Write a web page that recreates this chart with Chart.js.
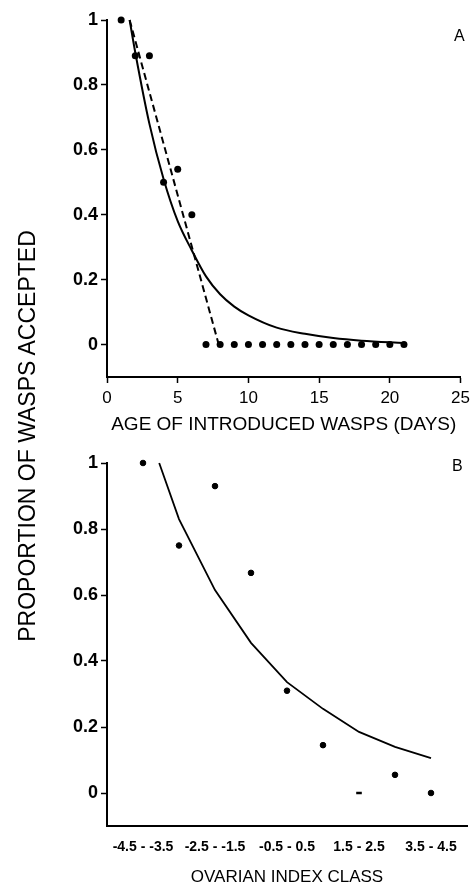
<!DOCTYPE html>
<html>
<head>
<meta charset="utf-8">
<script src="https://cdn.jsdelivr.net/npm/chart.js@4"></script>
<style>
  html, body { margin: 0; padding: 0; background: #fff; }
  #wrap { position: relative; width: 475px; height: 888px; font-family: "Liberation Sans", Arial, sans-serif; color: #000; }
  #boxA { position: absolute; left: 0; top: 0; width: 475px; height: 445px; }
  #boxB { position: absolute; left: 0; top: 445px; width: 475px; height: 443px; }
  .panel { position: absolute; font-size: 16px; line-height: 18px; }
  #ytitle { position: absolute; left: -223px; top: 421px; width: 500px; height: 30px; line-height: 30px;
            text-align: center; font-size: 23px; transform: rotate(-90deg); white-space: nowrap; }
</style>
</head>
<body>
<div id="wrap">
  <div id="boxA"><canvas id="chartA"></canvas></div>
  <div id="boxB"><canvas id="chartB"></canvas></div>
  <div id="ytitle">PROPORTION OF WASPS ACCEPTED</div>
  <div class="panel" style="left:454px; top:27px;">A</div>
  <div class="panel" style="left:452px; top:457px;">B</div>
</div>
<script>
/* ================= DATA ================= */

// panel A - age of introduced wasps
const ageDays = [1, 2, 3, 4, 5, 6, 7, 8, 9, 10, 11, 12, 13, 14, 15, 16, 17, 18, 19, 20, 21];
const acceptA = [1, 0.89, 0.89, 0.5, 0.54, 0.4, 0, 0, 0, 0, 0, 0, 0, 0, 0, 0, 0, 0, 0, 0, 0];
const curveDaysA = [1.6, 2, 3, 4, 5, 6, 7, 8, 9, 10, 12, 14, 16, 18, 21];
const curveA = [1, 0.9, 0.68, 0.51, 0.38, 0.29, 0.21, 0.155, 0.117, 0.09, 0.052, 0.033, 0.02, 0.012, 0.005];
const lineDaysA = [1.6, 7.9];
const lineA = [1, 0];
const xTicksA = [0, 5, 10, 15, 20, 25];

// panel B - ovarian index class
const classPos = [1, 2, 3, 4, 5, 6, 7, 8, 9];
const acceptB = [1, 0.75, 0.93, 0.667, 0.31, 0.145, 0, 0.055, 0];
const pointStyleB = ["circle", "circle", "circle", "circle", "circle", "circle", "line", "circle", "circle"];
const curvePosB = [1.45, 2, 3, 4, 5, 6, 7, 8, 9];
const curveB = [1, 0.83, 0.615, 0.455, 0.336, 0.255, 0.185, 0.14, 0.106];
const xTickPosB = [1, 3, 5, 7, 9];
const xTickLabelsB = ["-4.5 - -3.5", "-2.5 - -1.5", "-0.5 - 0.5", "1.5 - 2.5", "3.5 - 4.5"];

const yTicks = [0, 0.2, 0.4, 0.6, 0.8, 1];

Chart.defaults.font.family = '"Liberation Sans", Arial, sans-serif';
Chart.defaults.color = "#000";

const toXY = (xs, ys) => xs.map((x, i) => ({ x: x, y: ys[i] }));

const yAxis = (boxWidth) => ({
    min: -0.1,
    max: 1,
    afterFit: (s) => { s.width = boxWidth; },
    afterBuildTicks: (s) => { s.ticks = yTicks.map(v => ({ value: v })); },
    border: { color: "#000", width: 2 },
    grid: { drawOnChartArea: false, tickColor: "#000", tickLength: 6, tickWidth: 1.5 },
    ticks: {
        padding: 3,
        font: { size: 18, weight: "bold" },
        callback: (v) => String(v)
    }
});


/* ================= PANEL A ================= */

new Chart(document.getElementById("chartA"), {

    type: "scatter",

    data: {
        datasets: [
            {
                data: toXY(ageDays, acceptA),
                backgroundColor: "#000",
                borderColor: "#000",
                pointRadius: 3.5,
                pointBorderWidth: 0,
                clip: false
            },
            {
                data: toXY(curveDaysA, curveA),
                showLine: true,
                borderColor: "#000",
                borderWidth: 2,
                pointRadius: 0,
                cubicInterpolationMode: "monotone",
                clip: false
            },
            {
                data: toXY(lineDaysA, lineA),
                showLine: true,
                borderColor: "#000",
                borderWidth: 2,
                borderDash: [7, 4],
                pointRadius: 0,
                clip: false
            }
        ]
    },

    options: {
        responsive: true,
        maintainAspectRatio: false,
        animation: false,
        layout: { padding: { top: 20, right: 6, bottom: 0, left: 0 } },

        plugins: {
            legend: { display: false },
            tooltip: { enabled: false }
        },

        scales: {
            x: {
                min: 0,
                max: 25,
                afterFit: (s) => { s.height = 68; },
                afterBuildTicks: (s) => { s.ticks = xTicksA.map(v => ({ value: v })); },
                border: { color: "#000", width: 2 },
                grid: { drawOnChartArea: false, tickColor: "#000", tickLength: 6, tickWidth: 1.5 },
                ticks: { padding: 5, maxRotation: 0, autoSkip: false, font: { size: 17 } },
                title: {
                    display: true,
                    text: "AGE OF INTRODUCED WASPS (DAYS)",
                    font: { size: 19 },
                    padding: { top: 0, bottom: 9 }
                }
            },
            y: yAxis(107)
        }
    }

});


/* ================= PANEL B ================= */

new Chart(document.getElementById("chartB"), {

    type: "scatter",

    data: {
        datasets: [
            {
                data: toXY(classPos, acceptB),
                backgroundColor: "#000",
                borderColor: "#000",
                pointStyle: pointStyleB,
                pointRadius: 2.8,
                pointBorderWidth: [1, 1, 1, 1, 1, 1, 2.5, 1, 1],
                clip: false
            },
            {
                data: toXY(curvePosB, curveB),
                showLine: true,
                borderColor: "#000",
                borderWidth: 1.8,
                pointRadius: 0,
                tension: 0,
                clip: false
            }
        ]
    },

    options: {
        responsive: true,
        maintainAspectRatio: false,
        animation: false,
        layout: { padding: { top: 18, right: 8, bottom: 0, left: 0 } },

        plugins: {
            legend: { display: false },
            tooltip: { enabled: false }
        },

        scales: {
            x: {
                min: 0,
                max: 10,
                afterFit: (s) => { s.height = 62; },
                afterBuildTicks: (s) => { s.ticks = xTickPosB.map(v => ({ value: v })); },
                border: { color: "#000", width: 2 },
                grid: { drawOnChartArea: false, tickColor: "transparent", tickLength: 6 },
                ticks: {
                    padding: 7,
                    maxRotation: 0,
                    autoSkip: false,
                    font: { size: 14, weight: "bold" },
                    callback: (v) => xTickLabelsB[xTickPosB.indexOf(v)]
                },
                title: {
                    display: true,
                    text: "OVARIAN INDEX CLASS",
                    font: { size: 17 },
                    padding: { top: 0, bottom: 0 }
                }
            },
            y: yAxis(107)
        }
    }

});
</script>
</body>
</html>
